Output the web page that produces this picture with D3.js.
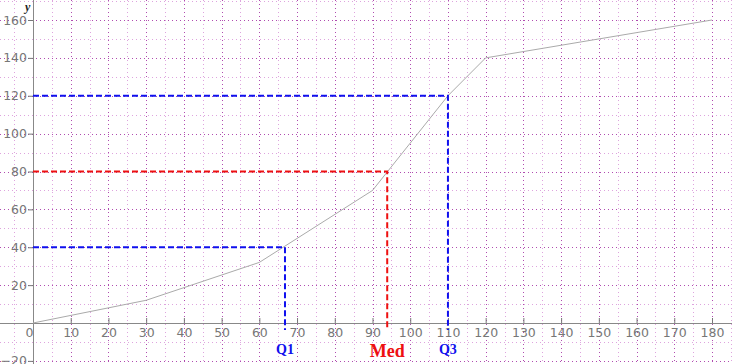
<!DOCTYPE html>
<html>
<head>
<meta charset="utf-8">
<script src="https://cdn.jsdelivr.net/npm/d3@7"></script>
<style>
  body { margin: 0; background: #fff; }
  .tick text { fill: #777; font-family: "DejaVu Sans", sans-serif; font-size: 12.5px; }
  .tick line { stroke: #777; }
</style>
</head>
<body>
<div id="chart"></div>
<script>
// Chart size
var svgWidth = 732;
var svgHeight = 364;

// Cumulative frequency polygon
var classBounds = [0, 30, 60, 90, 110, 120, 180];
var cumFreq = [0, 12, 32, 70, 120, 140, 160];

// Quartiles
var quartNames = ["Q1", "Med", "Q3"];
var quartX = [66.8, 93.9, 110];
var quartY = [40, 80, 120];
var quartColors = ["#1010ee", "#ee1010", "#1010ee"];

// Tick labels
var xTicks = [0, 10, 20, 30, 40, 50, 60, 70, 80, 90, 100, 110, 120, 130, 140, 150, 160, 170, 180];
var yTicks = [-20, 20, 40, 60, 80, 100, 120, 140, 160];

var svg = d3.select("#chart")
  .append("svg")
  .attr("width", svgWidth)
  .attr("height", svgHeight);

var xScale = d3.scaleLinear().domain([0, 180]).range([33, 712]);
var yScale = d3.scaleLinear().domain([0, 160]).range([323, 20]);

// Dotted grid
var vGrid = d3.range(-5, 190, 5);
var hGrid = d3.range(-20, 180, 10);

svg.append("g").selectAll("line")
  .data(vGrid)
  .enter()
  .append("line")
  .attr("x1", d => Math.round(xScale(d)) + 0.5)
  .attr("x2", d => Math.round(xScale(d)) + 0.5)
  .attr("y1", 0)
  .attr("y2", svgHeight)
  .attr("stroke", d => d % 10 === 0 ? "#b04cb0" : "#dea4de")
  .attr("stroke-dasharray", "1,3");

svg.append("g").selectAll("line")
  .data(hGrid)
  .enter()
  .append("line")
  .attr("y1", d => Math.round(yScale(d)) + 0.5)
  .attr("y2", d => Math.round(yScale(d)) + 0.5)
  .attr("x1", 0)
  .attr("x2", svgWidth)
  .attr("stroke", d => d % 20 === 0 ? "#b04cb0" : "#dea4de")
  .attr("stroke-dasharray", "1,3");

// Axes lines across the whole picture
var x0 = Math.round(xScale(0)) + 0.5;
var y0 = Math.round(yScale(0)) + 0.5;
svg.append("line")
  .attr("x1", 0).attr("x2", svgWidth)
  .attr("y1", y0).attr("y2", y0)
  .attr("stroke", "#888");
svg.append("line")
  .attr("x1", x0).attr("x2", x0)
  .attr("y1", 0).attr("y2", svgHeight)
  .attr("stroke", "#888");

var bottomAxis = d3.axisBottom(xScale)
  .tickValues(xTicks)
  .tickSize(-5)
  .tickPadding(5)
  .tickFormat(d3.format("d"));

var leftAxis = d3.axisLeft(yScale)
  .tickValues(yTicks)
  .tickSize(5)
  .tickPadding(1)
  .tickFormat(d => d < 0 ? "\u2212" + Math.abs(d) : d);

var xAxisG = svg.append("g")
  .attr("transform", `translate(0, ${y0 - 0.5})`)
  .call(bottomAxis);
xAxisG.select(".domain").remove();
xAxisG.selectAll(".tick line").filter(d => d === 0).remove();
xAxisG.selectAll(".tick text").filter(d => d === 0).attr("dx", "-4");

var yAxisG = svg.append("g")
  .attr("transform", `translate(${x0 - 0.5}, 0)`)
  .call(leftAxis);
yAxisG.select(".domain").remove();

// y label
svg.append("text")
  .attr("x", 25)
  .attr("y", 11)
  .attr("font-family", "Liberation Serif, serif")
  .attr("font-style", "italic")
  .attr("font-weight", "bold")
  .attr("font-size", "12px")
  .attr("fill", "#222")
  .text("y");

// Curve
var curve = d3.line()
  .x((d, i) => xScale(classBounds[i]))
  .y(d => yScale(d));

svg.append("path")
  .datum(cumFreq)
  .attr("d", curve)
  .attr("fill", "none")
  .attr("stroke", "#aaa")
  .attr("stroke-width", 1);

// Quartile construction lines
var qg = svg.append("g");
quartNames.forEach(function(name, i) {
  var px = xScale(quartX[i]);
  var py = yScale(quartY[i]);
  qg.append("path")
    .attr("d", `M${xScale(0)},${py}H${px}V${yScale(-3.7)}`)
    .attr("fill", "none")
    .attr("stroke", quartColors[i])
    .attr("stroke-width", 2)
    .attr("stroke-dasharray", "6,3");
  qg.append("text")
    .attr("x", px)
    .attr("y", name === "Med" ? 357 : 354)
    .attr("text-anchor", "middle")
    .attr("font-family", "Liberation Serif, serif")
    .attr("font-weight", "bold")
    .attr("font-size", name === "Med" ? "18px" : "14px")
    .attr("fill", quartColors[i])
    .text(name);
});
</script>
</body>
</html>
